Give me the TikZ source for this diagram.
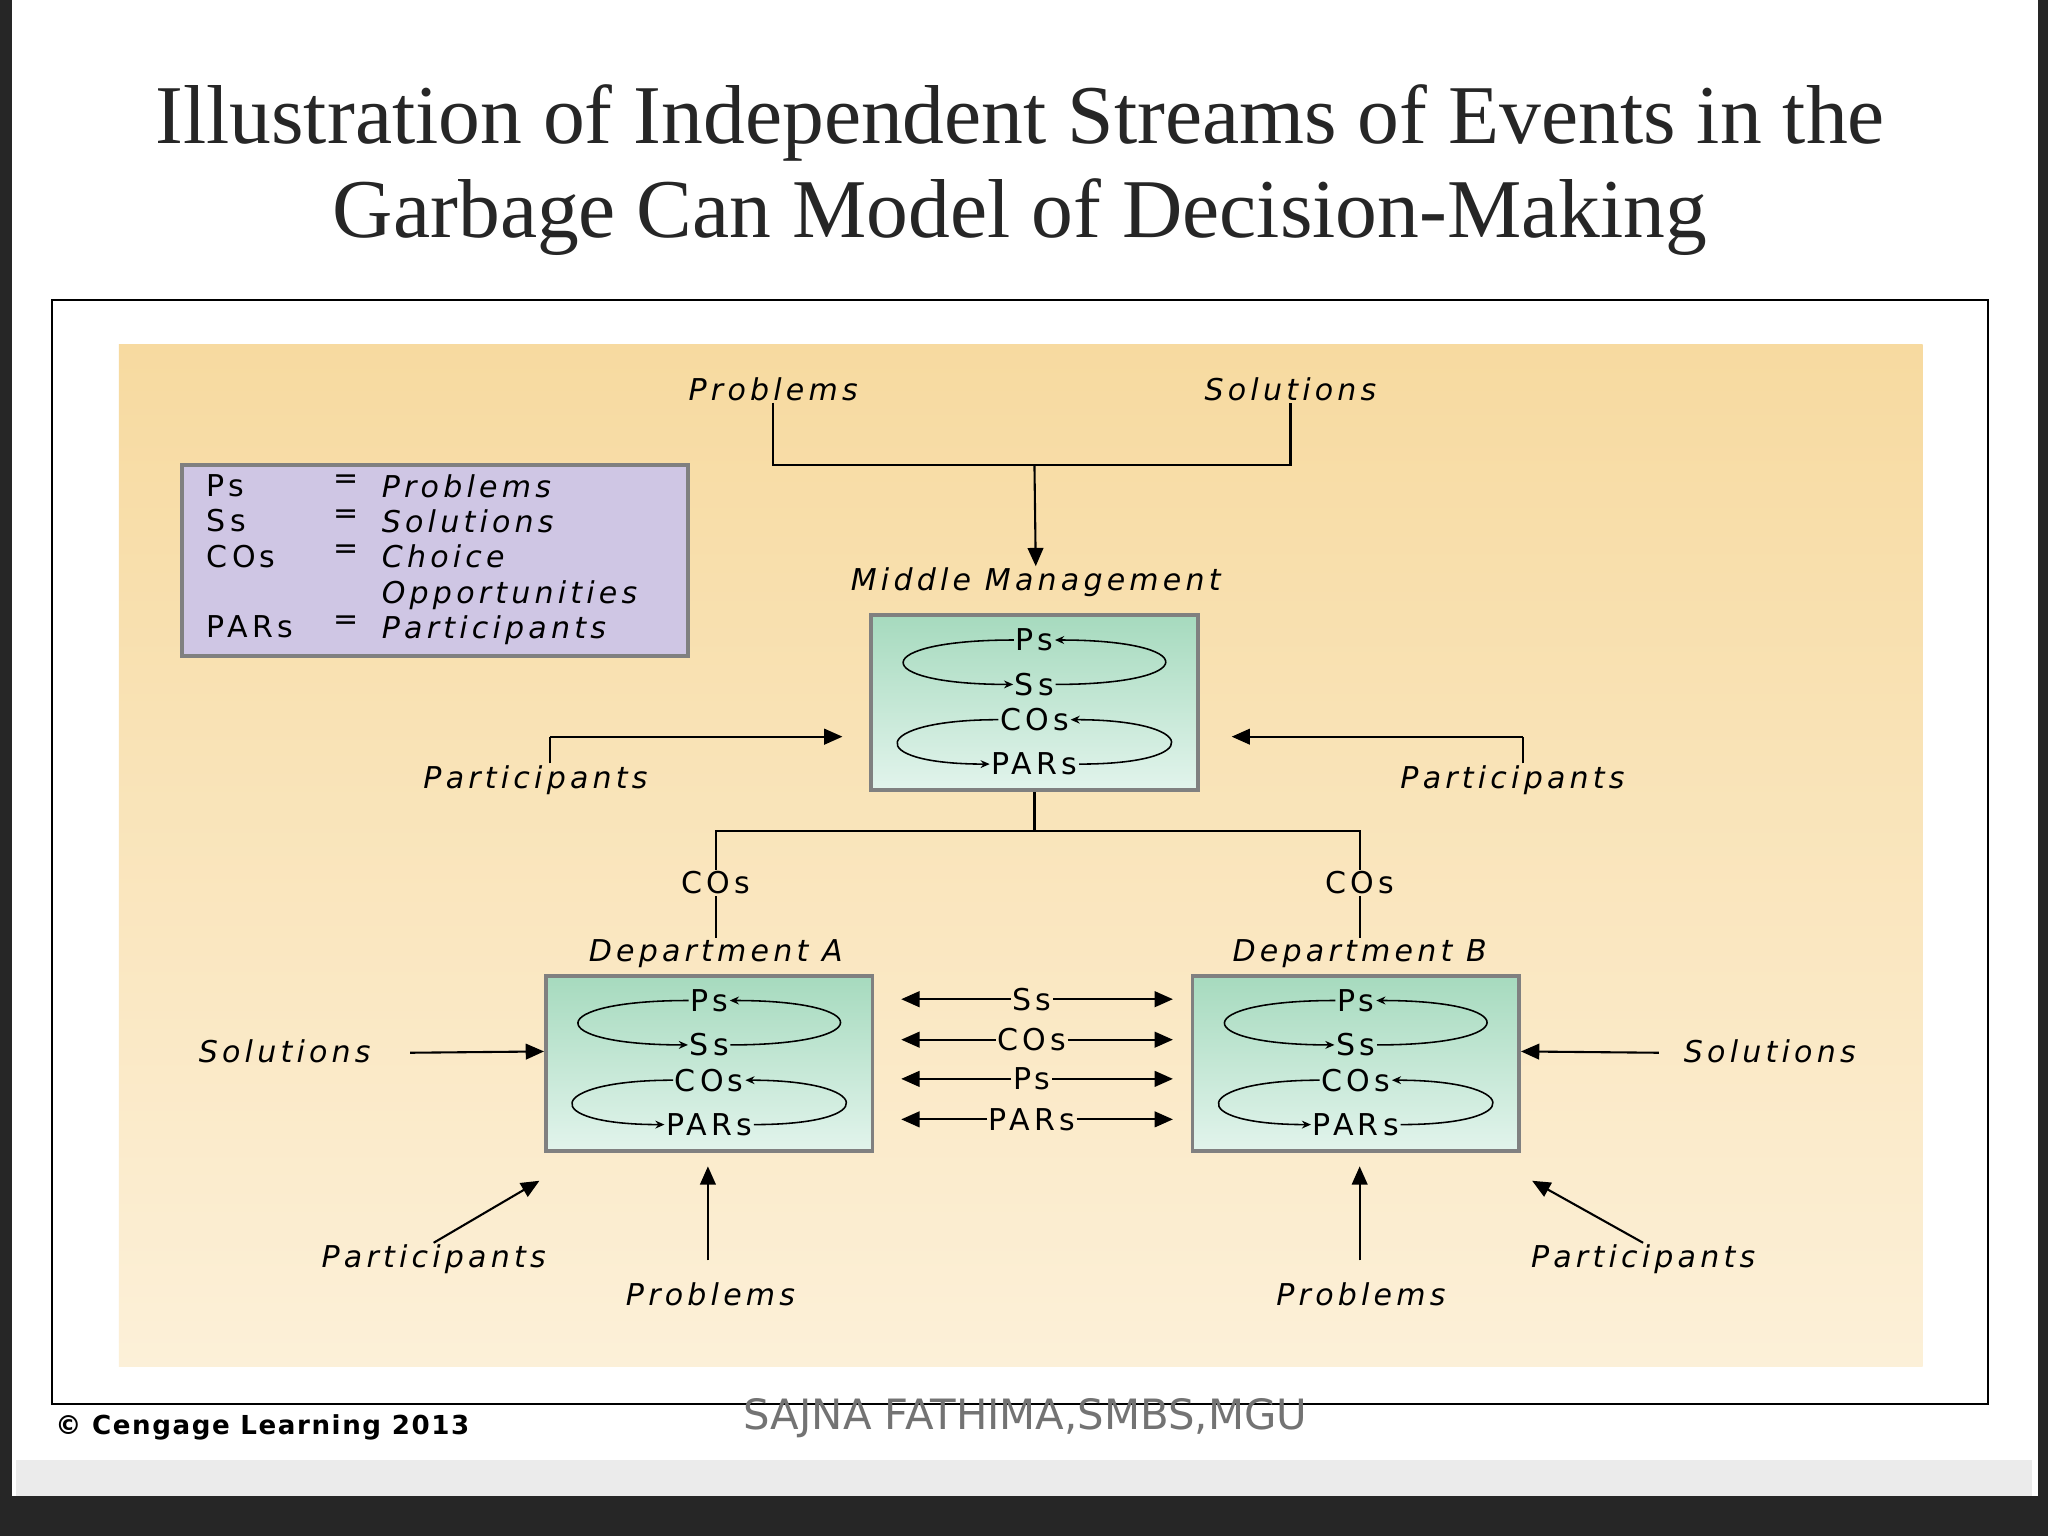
\documentclass[tikz,border=0pt]{standalone}
\usepackage{fontspec}
\setmainfont{Liberation Serif}
\newfontfamily\diagfont[LetterSpace=14]{DejaVu Sans}
\newfontfamily\creditfont[LetterSpace=6]{DejaVu Sans}
\newfontfamily\notefont{DejaVu Sans}
\usetikzlibrary{arrows.meta,calc}
\definecolor{peachtop}{RGB}{247,218,160}
\definecolor{peachbot}{RGB}{252,240,216}
\definecolor{boxgreen}{RGB}{166,218,190}
\definecolor{boxpale}{RGB}{226,244,236}
\definecolor{legendlilac}{RGB}{207,198,228}
\definecolor{framegray}{RGB}{128,128,128}
\tikzset{every picture/.style={line width=0.75pt},
  lbl/.style={font=\diagfont\itshape\fontsize{23}{27}\selectfont,inner sep=1pt},
  boxtext/.style={font=\diagfont\fontsize{23}{27}\selectfont,inner sep=1pt},
  flow/.style={line width=1.6pt,-{Triangle[length=14pt,width=12pt]}},
  wire/.style={line width=1.6pt},
  loop/.style={line width=1.2pt,-{Stealth[length=7pt,width=6pt]}},
  streambox/.style={draw=framegray,line width=3pt,minimum width=250pt,minimum height=134pt,inner sep=0pt}}

% box with the two cycles of streams
\newcommand\garbox[3]{%
  \shade[top color=boxgreen,bottom color=boxpale] (#2-125,#3-67) rectangle (#2+125,#3+67);
  \node[streambox] (#1) at (#2,#3) {};
  \node[boxtext] (#1-ps) at (#2,#3-48) {Ps};
  \node[boxtext] (#1-ss) at (#2,#3-14) {Ss};
  \node[boxtext] (#1-cos) at (#2,#3+13) {COs};
  \node[boxtext] (#1-pars) at (#2,#3+47) {PARs};
  \draw[loop] (#1-ps.west) .. controls +(-112,0) and +(-112,0) .. (#1-ss.west);
  \draw[loop] (#1-ss.east) .. controls +(112,0) and +(112,0) .. (#1-ps.east);
  \draw[loop] (#1-cos.west) .. controls +(-98,0) and +(-98,0) .. (#1-pars.west);
  \draw[loop] (#1-pars.east) .. controls +(98,0) and +(98,0) .. (#1-cos.east);
}

\begin{document}
\begin{tikzpicture}[x=1pt,y=1pt,yscale=-1,xscale=1]
\useasboundingbox (0,0) rectangle (1568,1176);
%page
\fill[black!85] (0,0) rectangle (1568,1176);
\fill[white] (9,0) rectangle (1560,1145);
\fill[black!8] (12,1118) rectangle (1556,1145);
%title
\node[font=\fontsize{64}{72}\selectfont,align=center,text=black!85] (title) at (781,130) {Illustration of Independent Streams of Events in the\\Garbage Can Model of Decision-Making};
%frame and background
\draw[line width=1.5pt] (40,230) rectangle (1522,1075);
\shade[top color=peachtop,bottom color=peachbot] (91,264) rectangle (1472,1046);
%legend
\node[draw=framegray,line width=3pt,fill=legendlilac,minimum width=388pt,minimum height=146pt] (legend) at (333,429) {};
\node[boxtext,anchor=north west,align=left] (legkey) at (157,362) {Ps\\Ss\\COs\\\\PARs};
\node[boxtext,anchor=north west,align=left] (legeq) at (254,362) {=\\=\\=\\\\=};
\node[lbl,anchor=north west,align=left] (legval) at (291,362) {Problems\\Solutions\\Choice\\Opportunities\\Participants};
%top streams
\node[lbl] (topprob) at (592,298) {Problems};
\node[lbl] (topsol) at (988,298) {Solutions};
\node[lbl] (mmlabel) at (793,446) {Middle Management};
\garbox{mm}{792}{538}
\coordinate (topjoin) at (792,356);
\draw[wire] (topprob.south) |- (topjoin) -| (topsol.south);
\draw[flow] (topjoin) -- (mmlabel.north);
%participants to middle management
\node[lbl] (mmpartl) at (410,597) {Participants};
\node[lbl] (mmpartr) at (1158,597) {Participants};
\draw[wire] (mmpartl.north-|421,0) -- (421,564) coordinate (pl);
\draw[flow] (pl) -- (645,564);
\draw[wire] (mmpartr.north-|1166,0) -- (1166,564) coordinate (pr);
\draw[flow] (pr) -- (943,564);
%choice opportunities down
\node[boxtext] (cosa) at (548,676) {COs};
\node[boxtext] (cosb) at (1041,676) {COs};
\coordinate (midjoin) at (792,636);
\draw[wire] (mm.south) -- (midjoin);
\draw[wire] (cosa.north) |- (midjoin) -| (cosb.north);
\node[lbl] (deptalabel) at (548,730) {Department A};
\node[lbl] (deptblabel) at (1041,730) {Department B};
\draw[wire] (cosa.south) -- (deptalabel.north);
\draw[wire] (cosb.south) -- (deptblabel.north);
\garbox{depta}{543}{814}
\garbox{deptb}{1038}{814}
%exchange between departments
\foreach \lab/\yy [count=\i] in {Ss/765,COs/796,Ps/826,PARs/857}{
  \node[boxtext] (ex\i) at (790,\yy) {\lab};
  \draw[flow] (ex\i.east) -- (898,\yy);
  \draw[flow] (ex\i.west) -- (690,\yy);
}
%inputs department A
\node[lbl] (solA) at (218,805) {Solutions};
\draw[flow] (314,806) -- (depta.west|-solA);
\node[lbl] (partA) at (332,964) {Participants};
\draw[flow] (partA.north) -- (413,904);
\node[lbl] (probA) at (544,991) {Problems};
\draw[flow] (542,965) -- (542,893);
%inputs department B
\node[lbl] (solB) at (1355,805) {Solutions};
\draw[flow] (1270,806) -- (deptb.east|-solB);
\node[lbl] (partB) at (1258,964) {Participants};
\draw[flow] (partB.north) -- (1173,904);
\node[lbl] (probB) at (1042,991) {Problems};
\draw[flow] (1041,965) -- (1041,893);
%footer
\node[font=\creditfont\bfseries\fontsize{20}{22}\selectfont,anchor=west,inner sep=0pt] (credit) at (42,1093) {\textcopyright{} Cengage Learning 2013};
\node[font=\notefont\fontsize{32}{36}\selectfont,text=black!55] (author) at (785,1086) {SAJNA FATHIMA,SMBS,MGU};
\end{tikzpicture}
\end{document}
